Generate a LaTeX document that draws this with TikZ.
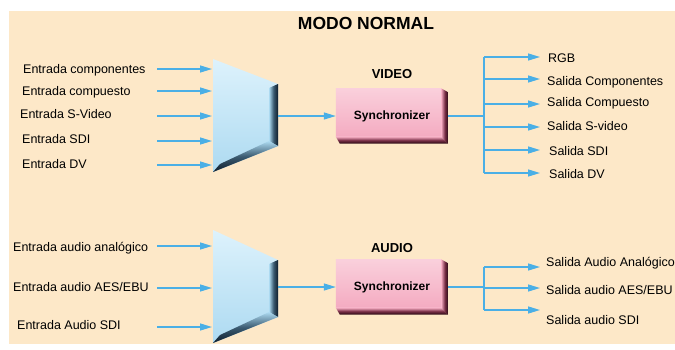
\documentclass[tikz,border=0pt]{standalone}
\usepackage{fontspec}
\setmainfont{Liberation Sans}
\usetikzlibrary{arrows.meta,backgrounds}
\definecolor{peach}{HTML}{FDE8C8}
\definecolor{flowblue}{HTML}{4AAFE6}
\definecolor{muxlight}{HTML}{DDF2FC}
\definecolor{muxbody}{HTML}{ADDAF1}
\definecolor{muxmid}{HTML}{3A5A70}
\definecolor{muxdark}{HTML}{0E1C2A}
\definecolor{pinklight}{HTML}{FAD0DC}
\definecolor{pinkbody}{HTML}{F4ABC1}
\definecolor{pinkmid}{HTML}{7A3048}
\definecolor{pinkdark}{HTML}{240610}
\tikzset{
  lbl/.style={anchor=base west, inner sep=0pt, font=\fontsize{12.5}{14}\selectfont},
  flow/.style={draw=flowblue, line width=1.3pt, -{Triangle[length=12pt,width=7pt]}},
  wire/.style={draw=flowblue, line width=1.3pt},
  syncbox/.style={minimum width=112pt, minimum height=55pt, inner sep=0pt, font=\bfseries\fontsize{12}{14}\selectfont},
  head/.style={inner sep=0pt, anchor=base, font=\bfseries\fontsize{13}{15}\selectfont},
}
\begin{document}
\begin{tikzpicture}[x=1pt,y=-1pt]
\useasboundingbox (0,0) rectangle (675,349);
\begin{pgfonlayer}{background}
\fill[white] (0,0) rectangle (675,349);
\fill[peach] (9,11) rectangle (675,344);
\end{pgfonlayer}

% ---------- title ----------
\node[anchor=base, inner sep=0pt, font=\bfseries\fontsize{17.5}{20}\selectfont] (title) at (366,29) {MODO NORMAL};

% ---------- video multiplexer ----------
\shade[top color=muxlight, bottom color=muxbody] (213,59) -- (278,84) -- (278,146) -- (213,172) -- cycle;
\shade[left color=muxbody, right color=muxdark, middle color=muxmid] (269,88) -- (278,84) -- (278,146) -- (269,141) -- cycle;
\shade[top color=muxbody, bottom color=muxdark, middle color=muxmid] (220,164) -- (269,141) -- (278,146) -- (213,172) -- cycle;
\coordinate (vmuxout) at (278,116);

% ---------- audio multiplexer ----------
\shade[top color=muxlight, bottom color=muxbody] (213,230) -- (278,260) -- (278,317) -- (213,343) -- cycle;
\shade[left color=muxbody, right color=muxdark, middle color=muxmid] (269,264) -- (278,260) -- (278,317) -- (269,312) -- cycle;
\shade[top color=muxbody, bottom color=muxdark, middle color=muxmid] (220,335) -- (269,312) -- (278,317) -- (213,343) -- cycle;
\coordinate (amuxout) at (278,287);

% ---------- synchronizers ----------
\node[syncbox] (vsync) at (392,116) {Synchronizer};
\node[syncbox] (async) at (392,287) {Synchronizer};
\begin{pgfonlayer}{background}
\foreach \b in {vsync,async}{
  \shade[top color=pinklight, bottom color=pinkbody] (\b.north west) rectangle ([xshift=-7pt,yshift=7pt]\b.south east);
  \shade[left color=pinkbody, right color=pinkdark, middle color=pinkmid] ([xshift=-7pt]\b.north east) -- ([yshift=-4pt]\b.north east) -- (\b.south east) -- ([xshift=-7pt,yshift=7pt]\b.south east) -- cycle;
  \shade[top color=pinkbody, bottom color=pinkdark, middle color=pinkmid] ([yshift=7pt]\b.south west) -- ([xshift=-7pt,yshift=7pt]\b.south east) -- (\b.south east) -- ([xshift=4pt]\b.south west) -- cycle;
}
\end{pgfonlayer}
\node[head] (vhead) at (392,78) {VIDEO};
\node[head] (ahead) at (392,252) {AUDIO};

% ---------- video inputs ----------
\node[lbl] (vi1) at (23,73) {Entrada componentes};
\node[lbl] (vi2) at (22,95) {Entrada compuesto};
\node[lbl] (vi3) at (20,118) {Entrada S-Video};
\node[lbl] (vi4) at (22,143) {Entrada SDI};
\node[lbl] (vi5) at (22,168) {Entrada DV};
\foreach \y [count=\i] in {69,91,116,141,165}{
  \coordinate (vs\i) at (157,\y);
  \coordinate (ve\i) at (212,\y);
  \draw[flow] (vs\i) -- (ve\i);
}
\draw[flow] (vmuxout) -- (vsync.west);

% ---------- video outputs ----------
\coordinate (vbr) at (484,116);
\coordinate (vtop) at (484,57);
\coordinate (vbot) at (484,173);
\draw[wire] (vsync.east) -- (vbr);
\draw[wire] (vtop) -- (vbot);
\foreach \y [count=\i] in {57,79,104,127,150,173}{
  \coordinate (vb\i) at (484,\y);
  \coordinate (vt\i) at (540,\y);
  \draw[flow] (vb\i) -- (vt\i);
}
\node[lbl] (vo1) at (548,62) {RGB};
\node[lbl] (vo2) at (547,85) {Salida Componentes};
\node[lbl] (vo3) at (547,106) {Salida Compuesto};
\node[lbl] (vo4) at (547,130) {Salida S-video};
\node[lbl] (vo5) at (549,155) {Salida SDI};
\node[lbl] (vo6) at (549,178) {Salida DV};

% ---------- audio inputs ----------
\node[lbl] (ai1) at (13,251) {Entrada audio analógico};
\node[lbl] (ai2) at (13,291) {Entrada audio AES/EBU};
\node[lbl] (ai3) at (17,329) {Entrada Audio SDI};
\foreach \y [count=\i] in {246,288,327}{
  \coordinate (as\i) at (157,\y);
  \coordinate (ae\i) at (212,\y);
  \draw[flow] (as\i) -- (ae\i);
}
\draw[flow] (amuxout) -- (async.west);

% ---------- audio outputs ----------
\coordinate (abr) at (484,287);
\coordinate (atop) at (484,267);
\coordinate (abot) at (484,310);
\draw[wire] (async.east) -- (abr);
\draw[wire] (atop) -- (abot);
\foreach \y [count=\i] in {267,288,310}{
  \coordinate (ab\i) at (484,\y);
  \coordinate (at\i) at (540,\y);
  \draw[flow] (ab\i) -- (at\i);
}
\node[lbl] (ao1) at (546,266) {Salida Audio Analógico};
\node[lbl] (ao2) at (546,294) {Salida audio AES/EBU};
\node[lbl] (ao3) at (546,324) {Salida audio SDI};
\end{tikzpicture}
\end{document}
